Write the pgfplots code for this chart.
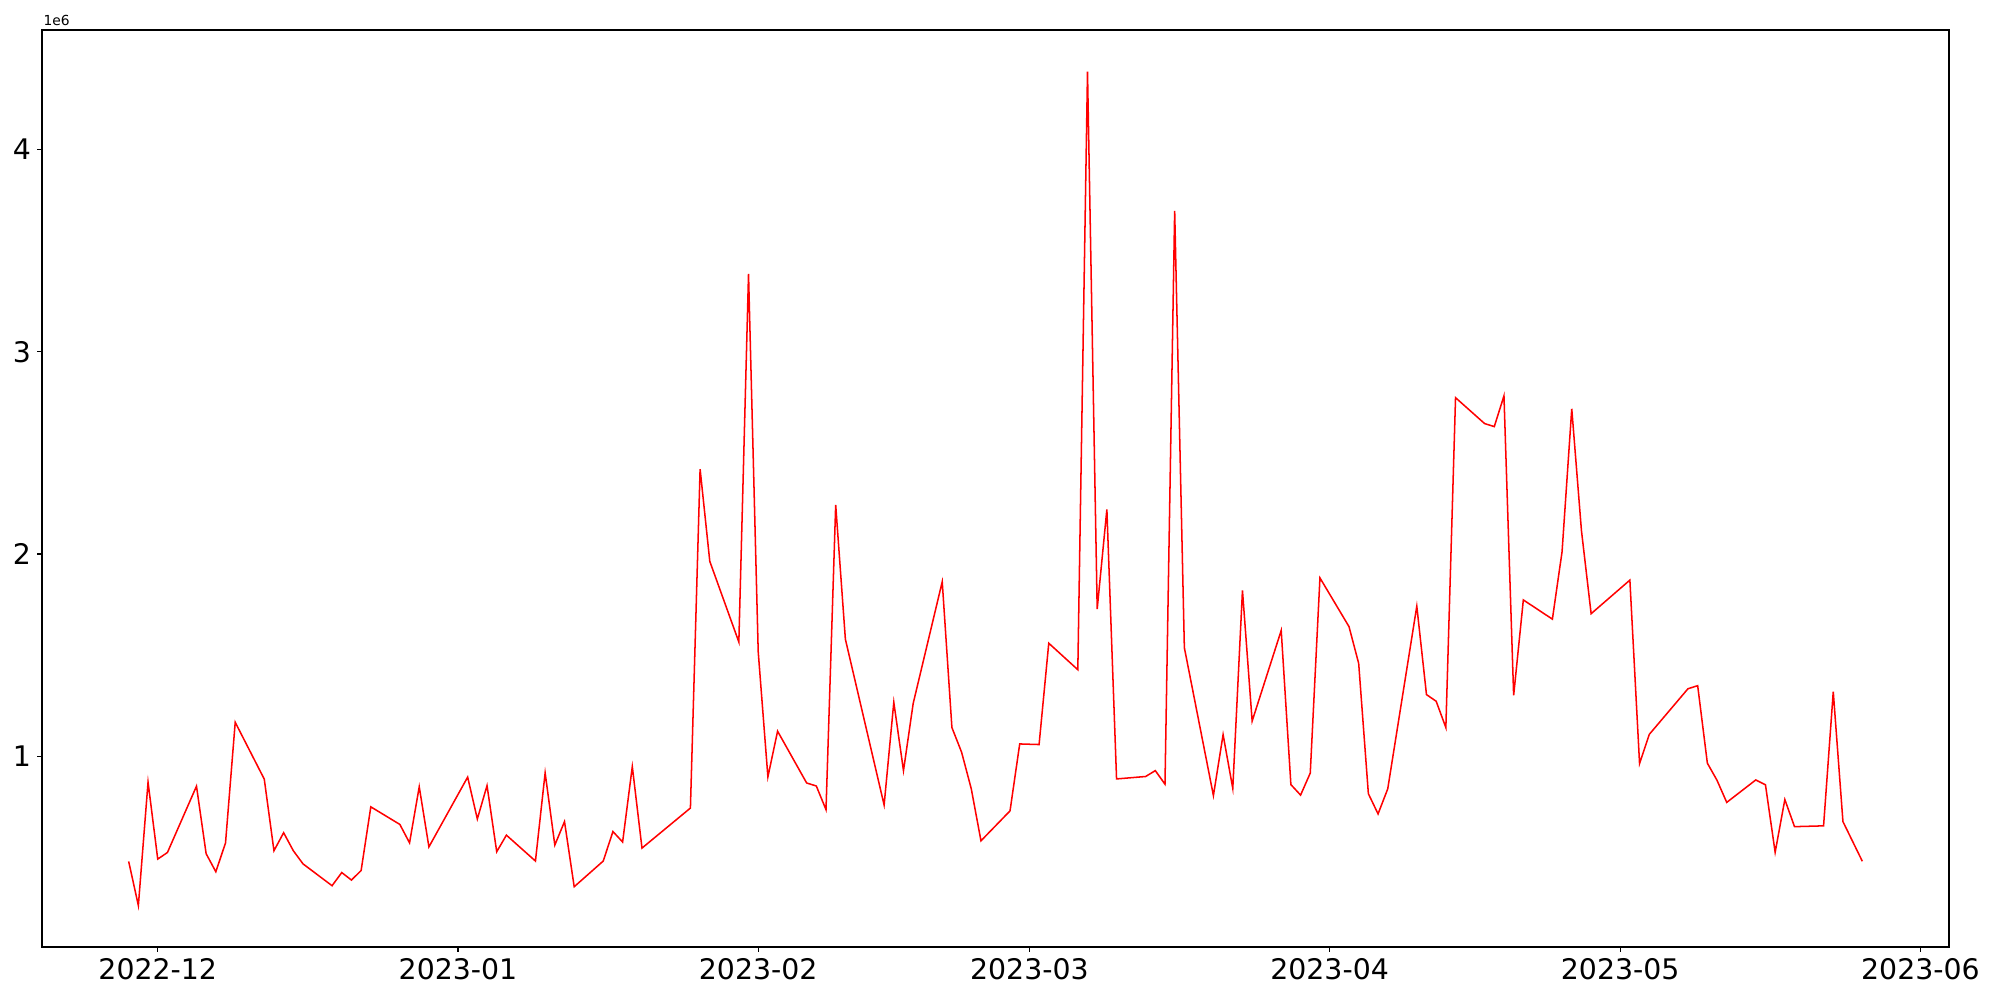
\documentclass[border=0pt]{standalone}
\usepackage{pgfplots}
\pgfplotsset{compat=1.18}
\usepackage{fontspec}
\setmainfont{DejaVu Sans}

% values in units of 1e6, x = days after 2022-12-01 (business days only)
\begin{document}
\begin{tikzpicture}
\useasboundingbox (0,0) rectangle (20in,10in);
\begin{axis}[
  name=ax,
  at={(0.42in,0.53in)}, anchor=south west,
  width=19.07in, height=9.17in, scale only axis,
  xmin=-11.95, xmax=184.95, ymin=0.057, ymax=4.591,
  xtick={0,31,62,90,121,151,182},
  xticklabels={2022-12,2023-01,2023-02,2023-03,2023-04,2023-05,2023-06},
  ytick={1,2,3,4},
  tick pos=left, tick align=outside,
  major tick length=3.5pt,
  every tick/.style={black, line width=0.8pt},
  axis line style={line width=0.8pt},
  tick label style={font=\fontsize{20.5}{24}\selectfont},
  /pgf/number format/assume math mode=true,
  xticklabel style={yshift=-1pt},
  yticklabel style={xshift=-1pt},
]
\addplot[red, line width=1.1pt] coordinates {
(-3,0.48)(-2,0.262)(-1,0.872)(0,0.492)(1,0.524)(4,0.852)(5,0.518)(6,0.429)
(7,0.572)(8,1.168)(11,0.887)(12,0.533)(13,0.622)(14,0.533)(15,0.468)
(18,0.36)(19,0.425)(20,0.388)(21,0.435)(22,0.75)(25,0.663)(26,0.572)
(27,0.849)(28,0.552)(32,0.897)(33,0.69)(34,0.855)(35,0.528)(36,0.61)
(39,0.482)(40,0.918)(41,0.561)(42,0.677)(43,0.355)(46,0.482)(47,0.628)
(48,0.576)(49,0.949)(50,0.546)(55,0.744)(56,2.42)(57,1.964)(60,1.565)
(61,3.385)(62,1.517)(63,0.898)(64,1.124)(67,0.868)(68,0.853)(69,0.736)
(70,2.243)(71,1.579)(75,0.759)(76,1.267)(77,0.929)(78,1.261)(81,1.863)
(82,1.142)(83,1.02)(84,0.839)(85,0.582)(88,0.73)(89,1.061)(91,1.058)
(92,1.559)(95,1.428)(96,4.385)(97,1.728)(98,2.221)(99,0.888)(102,0.9)
(103,0.929)(104,0.862)(105,3.697)(106,1.537)(109,0.806)(110,1.107)
(111,0.841)(112,1.82)(113,1.174)(116,1.622)(117,0.86)(118,0.808)
(119,0.917)(120,1.882)(123,1.641)(124,1.459)(125,0.815)(126,0.715)
(127,0.839)(130,1.742)(131,1.305)(132,1.272)(133,1.142)(134,2.773)
(137,2.645)(138,2.63)(139,2.782)(140,1.301)(141,1.773)(144,1.678)
(145,2.012)(146,2.718)(147,2.116)(148,1.705)(152,1.871)(153,0.964)
(154,1.108)(158,1.334)(159,1.349)(160,0.966)(161,0.881)(162,0.772)
(165,0.883)(166,0.859)(167,0.525)(168,0.786)(169,0.652)(172,0.656)
(173,1.319)(174,0.677)(176,0.481)
};
\end{axis}
\node[anchor=base west, inner sep=0pt, font=\fontsize{10}{12}\selectfont]
  at ([xshift=1pt, yshift=3.2pt]ax.north west) {1e6};
\end{tikzpicture}
\end{document}
